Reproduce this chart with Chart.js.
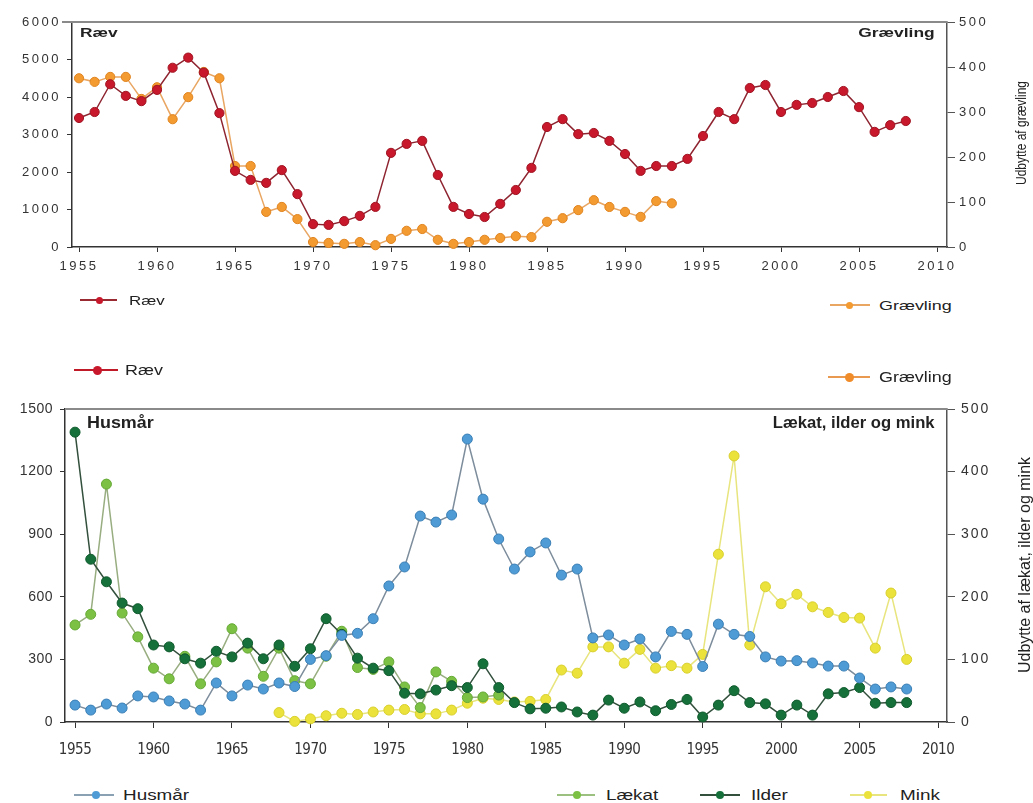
<!DOCTYPE html>
<html><head><meta charset="utf-8">
<script src="https://cdn.jsdelivr.net/npm/chart.js@4.4.1/dist/chart.umd.min.js"></script>
<style>
body{margin:0;background:#fff;width:1033px;height:803px;position:relative;overflow:hidden;font-family:"Liberation Sans",Arial,sans-serif;color:#222}
canvas{position:absolute;left:0}
.t{position:absolute;white-space:nowrap;line-height:1}
.L{transform-origin:left center}
.R{transform-origin:right center}
.ln{position:absolute}
.dot{position:absolute;border-radius:50%}
</style></head><body>
<canvas id="c1" width="1033" height="290" style="top:0"></canvas>
<canvas id="c2" width="1033" height="380" style="top:390px"></canvas>

<div class="t L" style="left:80px;top:33px;font-size:12px;font-weight:bold;transform:translateY(-50%) scaleX(1.45)">Ræv</div>
<div class="t R" style="right:98px;top:33px;font-size:12px;font-weight:bold;transform:translateY(-50%) scaleX(1.45)">Grævling</div>
<div class="t" style="left:1021px;top:133px;font-size:12px;transform:translate(-50%,-50%) rotate(-90deg) scaleY(1.25)">Udbytte af grævling</div>

<div class="t L" style="left:87px;top:423px;font-size:16px;font-weight:bold;transform:translateY(-50%) scaleX(1.12)">Husmår</div>
<div class="t R" style="right:98px;top:423px;font-size:16px;font-weight:bold;transform:translateY(-50%) scaleX(1.04)">Lækat, ilder og mink</div>
<div class="t" style="left:1025px;top:565px;font-size:16px;transform:translate(-50%,-50%) rotate(-90deg)">Udbytte af lækat, ilder og mink</div>

<div id="legends"></div>

<script>
// ---------- DATA ----------
const yearsFull = [1955,1956,1957,1958,1959,1960,1961,1962,1963,1964,1965,1966,1967,1968,1969,1970,1971,1972,1973,1974,1975,1976,1977,1978,1979,1980,1981,1982,1983,1984,1985,1986,1987,1988,1989,1990,1991,1992,1993,1994,1995,1996,1997,1998,1999,2000,2001,2002,2003,2004,2005,2006,2007,2008];
const yearsGraevling = [1955,1956,1957,1958,1959,1960,1961,1962,1963,1964,1965,1966,1967,1968,1969,1970,1971,1972,1973,1974,1975,1976,1977,1978,1979,1980,1981,1982,1983,1984,1985,1986,1987,1988,1989,1990,1991,1992,1993];
const yearsLaekat = [1955,1956,1957,1958,1959,1960,1961,1962,1963,1964,1965,1966,1967,1968,1969,1970,1971,1972,1973,1974,1975,1976,1977,1978,1979,1980,1981,1982];
const yearsMink = [1968,1969,1970,1971,1972,1973,1974,1975,1976,1977,1978,1979,1980,1981,1982,1983,1984,1985,1986,1987,1988,1989,1990,1991,1992,1993,1994,1995,1996,1997,1998,1999,2000,2001,2002,2003,2004,2005,2006,2007,2008];

const raev = [3440,3600,4340,4030,3890,4190,4780,5050,4650,3570,2030,1790,1710,2050,1410,610,590,690,830,1070,2510,2750,2830,1920,1070,880,800,1150,1520,2110,3200,3410,3010,3040,2830,2480,2030,2160,2160,2350,2960,3600,3410,4240,4320,3600,3790,3840,4000,4160,3730,3070,3250,3360];
const graevling = [375,367,378,378,329,355,284,333,389,375,180,180,78,89,62,11,9,7,11,4,18,36,40,16,7,11,16,20,24,22,56,64,82,104,89,78,67,102,97];

const husmaar = [81,57,86,67,125,120,101,86,57,187,125,177,158,187,170,300,318,415,425,495,652,743,987,958,992,1356,1068,877,733,815,858,704,733,403,417,369,398,312,434,420,266,469,420,410,312,292,294,283,268,268,211,158,168,158];
const laekat = [155,172,380,174,136,86,69,105,61,96,149,118,73,118,66,61,105,145,87,84,96,56,23,80,65,39,40,43];
const ilder = [463,260,224,190,181,123,120,101,94,113,104,126,101,123,89,117,165,140,102,86,82,46,45,51,58,55,93,55,31,21,22,24,16,11,35,22,32,18,28,36,8,27,50,31,29,11,27,11,45,47,55,30,31,31];
const mink = [15,1,5,10,14,12,16,19,20,13,13,19,30,38,36,32,33,36,83,78,120,120,94,116,86,90,86,108,268,425,123,216,189,204,184,175,167,166,118,206,100];

const xTicks = [1955,1960,1965,1970,1975,1980,1985,1990,1995,2000,2005,2010];
const topLeftTicks = [0,1000,2000,3000,4000,5000,6000];
const topRightTicks = [0,100,200,300,400,500];
const botLeftTicks = [0,300,600,900,1200,1500];
const botRightTicks = [0,100,200,300,400,500];

// ---------- HELPERS ----------
const pts = (xs, ys) => xs.map((x, i) => ({x, y: ys[i]}));
const FAM = '"Liberation Sans", Arial, sans-serif';
const NARROW = '"Liberation Sans Narrow", "Arial Narrow", "DejaVu Sans Condensed", "Liberation Sans", sans-serif';

// per-scale letter spacing for tick labels
const spacingPlugin = map => ({
  id: 'lsw',
  beforeDraw(c){
    for (const id in map){
      const s = c.scales[id];
      if (!s || s._lsWrapped) continue;
      const orig = s.drawLabels.bind(s);
      s.drawLabels = function(area){
        const ctx = this.ctx; const prev = ctx.letterSpacing;
        ctx.letterSpacing = map[id];
        orig(area);
        ctx.letterSpacing = prev || '0px';
      };
      s._lsWrapped = true;
    }
  }
});
const frameTop = (x0, color) => ({
  id: 'frameTop',
  afterDraw(c){
    const a = c.chartArea, ctx = c.ctx;
    ctx.save(); ctx.strokeStyle = color; ctx.lineWidth = 2;
    ctx.beginPath(); ctx.moveTo(x0, a.top); ctx.lineTo(a.right, a.top); ctx.stroke();
    ctx.restore();
  }
});

function axisY(pos, min, max, tickArr, width, font, tickLen, pad, color){
  return {
    type: 'linear', position: pos, min, max,
    afterBuildTicks: s => { s.ticks = tickArr.map(v => ({value: v})); },
    afterFit: s => { s.width = width; },
    grid: {display: true, drawOnChartArea: false, drawTicks: true, tickLength: tickLen, color: color, lineWidth: 1},
    border: {display: true, color: color, width: 1.5},
    ticks: {font, color: '#333', padding: pad, callback: v => String(v)}
  };
}
function axisX(min, max, height, font, tickLen, pad){
  return {
    type: 'linear', position: 'bottom', min, max,
    afterBuildTicks: s => { s.ticks = xTicks.map(v => ({value: v})); },
    afterFit: s => { s.height = height; },
    grid: {display: true, drawOnChartArea: false, drawTicks: true, tickLength: tickLen, color: '#333', lineWidth: 1},
    border: {display: true, color: '#333', width: 1.5},
    ticks: {font, color: '#333', padding: pad, maxRotation: 0, autoSkip: false, callback: v => String(v)}
  };
}
function ds(label, data, axis, fill, border, line, r, order){
  return {label, data, yAxisID: axis, borderColor: line, borderWidth: 1.5,
    pointBackgroundColor: fill, pointBorderColor: border, pointBorderWidth: 1,
    pointRadius: r, pointHoverRadius: r, tension: 0, fill: false, order, clip: false};
}

// ---------- TOP CHART ----------
new Chart(document.getElementById('c1'), {
  type: 'line',
  data: { datasets: [
    ds('Ræv', pts(yearsFull, raev), 'y', '#c8182b', '#a01624', '#8e2430', 4.6, 1),
    ds('Grævling', pts(yearsGraevling, graevling), 'y2', '#f39a30', '#e08420', '#e9a663', 4.6, 2)
  ]},
  options: {
    responsive: false, animation: false, events: [],
    layout: {padding: {top: 22, left: 0, right: 0, bottom: 0}},
    plugins: {legend: {display: false}, tooltip: {enabled: false}},
    scales: {
      x: axisX(1954.55, 2010.64, 43, {size: 13, family: FAM}, 5, 7),
      y: axisY('left', 0, 6000, topLeftTicks, 72, {size: 13, family: FAM}, 5, 6, '#333'),
      y2: axisY('right', 0, 500, topRightTicks, 86, {size: 13, family: FAM}, 8, 4, '#555')
    }
  },
  plugins: [spacingPlugin({x: '2.5px', y: '2.5px', y2: '2.5px'}), frameTop(62, '#8a8a8a')]
});

// ---------- BOTTOM CHART ----------
new Chart(document.getElementById('c2'), {
  type: 'line',
  data: { datasets: [
    ds('Husmår', pts(yearsFull, husmaar), 'y', '#4f9bd5', '#3a7fb5', '#7d8d9c', 5, 1),
    ds('Ilder', pts(yearsFull, ilder), 'y2', '#16703a', '#0f5a2d', '#33503d', 5, 2),
    ds('Lækat', pts(yearsLaekat, laekat), 'y2', '#7cc144', '#66a936', '#98ad80', 5, 3),
    ds('Mink', pts(yearsMink, mink), 'y2', '#ebe33c', '#d8cf2e', '#e8e57e', 5, 4)
  ]},
  options: {
    responsive: false, animation: false, events: [],
    layout: {padding: {top: 19, left: 0, right: 0, bottom: 0}},
    plugins: {legend: {display: false}, tooltip: {enabled: false}},
    scales: {
      x: axisX(1954.36, 2010.57, 48, {size: 15, family: NARROW}, 6, 13),
      y: axisY('left', 0, 1500, botLeftTicks, 65, {size: 14, family: FAM}, 5, 7, '#333'),
      y2: axisY('right', 0, 500, botRightTicks, 86, {size: 14, family: FAM}, 8, 6, '#555')
    }
  },
  plugins: [spacingPlugin({x: '-0.5px', y: '0.5px', y2: '2px'}), frameTop(65, '#8a8a8a')]
});

// ---------- LEGENDS (HTML) ----------
const legendItems = [
  {text: 'Ræv', x0: 80, x1: 117, dx: 99, y: 300, line: '#9a2a32', dot: '#c8182b', r: 3.5, lw: 1.5, fs: 13, sx: 1.3, tx: 129},
  {text: 'Grævling', x0: 830, x1: 870, dx: 849, y: 305, line: '#e9a663', dot: '#f39a30', r: 3.5, lw: 1.5, fs: 13, sx: 1.38, tx: 879},
  {text: 'Ræv', x0: 74, x1: 118, dx: 97, y: 370, line: '#c01a28', dot: '#c8182b', r: 4.5, lw: 2.5, fs: 14, sx: 1.28, tx: 125},
  {text: 'Grævling', x0: 828, x1: 870, dx: 849, y: 377, line: '#e99a50', dot: '#f08c2a', r: 4.5, lw: 2.5, fs: 14, sx: 1.28, tx: 879},
  {text: 'Husmår', x0: 74, x1: 114, dx: 96, y: 795, line: '#8aa0b3', dot: '#4f9bd5', r: 4, lw: 1.5, fs: 14, sx: 1.35, tx: 123},
  {text: 'Lækat', x0: 557, x1: 595, dx: 577, y: 795, line: '#9cc080', dot: '#7cc144', r: 4, lw: 1.5, fs: 14, sx: 1.34, tx: 606},
  {text: 'Ilder', x0: 700, x1: 740, dx: 720, y: 795, line: '#33503d', dot: '#16703a', r: 4, lw: 1.5, fs: 14, sx: 1.35, tx: 751},
  {text: 'Mink', x0: 850, x1: 887, dx: 868, y: 795, line: '#e8e57e', dot: '#ebe33c', r: 4, lw: 1.5, fs: 14, sx: 1.35, tx: 900}
];
const host = document.getElementById('legends');
legendItems.forEach(it => {
  const l = document.createElement('div');
  l.className = 'ln';
  l.style.cssText = `left:${it.x0}px;top:${it.y - it.lw/2}px;width:${it.x1 - it.x0}px;height:${it.lw}px;background:${it.line}`;
  host.appendChild(l);
  const d = document.createElement('div');
  d.className = 'dot';
  d.style.cssText = `left:${it.dx - it.r}px;top:${it.y - it.r}px;width:${2*it.r}px;height:${2*it.r}px;background:${it.dot}`;
  host.appendChild(d);
  const t = document.createElement('div');
  t.className = 't L';
  t.textContent = it.text;
  t.style.cssText = `left:${it.tx}px;top:${it.y}px;font-size:${it.fs}px;color:#222;transform:translateY(-50%) scaleX(${it.sx})`;
  host.appendChild(t);
});
</script>
</body></html>
